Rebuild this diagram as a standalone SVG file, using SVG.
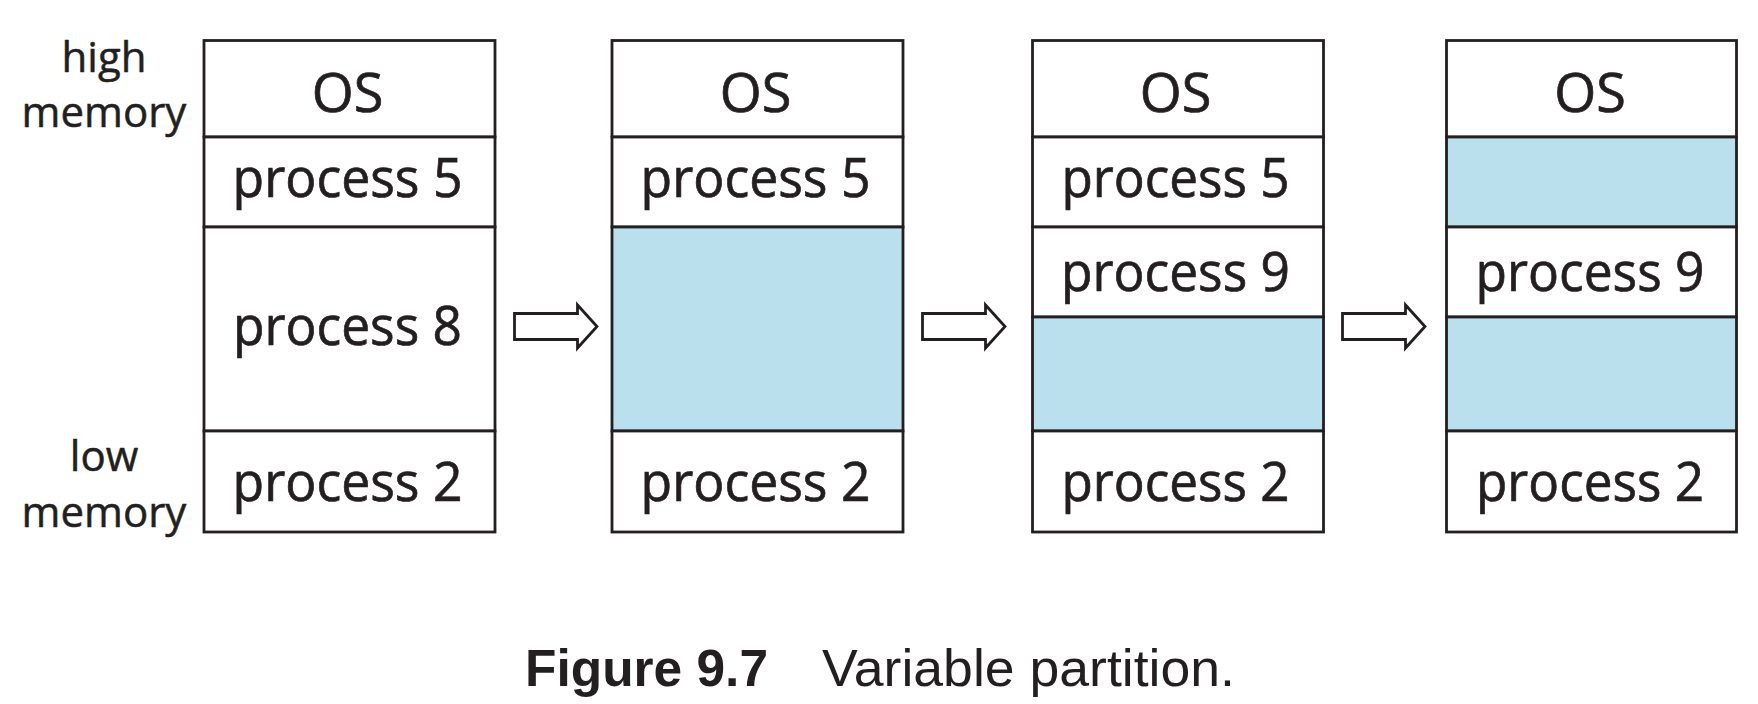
<svg xmlns="http://www.w3.org/2000/svg" width="1758" height="704" viewBox="0 0 1758 704">
<style>
.cell{fill:#ffffff;stroke:#231f20;stroke-width:2.8}
.free{fill:#bae0ee;stroke:#231f20;stroke-width:2.8}
.t{font-family:"Open Sans","Noto Sans",sans-serif;font-size:54px;fill:#231f20;stroke:#231f20;stroke-width:0.7;text-anchor:middle}
.lbl{font-family:"Open Sans","Noto Sans",sans-serif;font-size:42px;fill:#231f20;stroke:#231f20;stroke-width:0.5;text-anchor:middle}
.arrow{fill:#ffffff;stroke:#231f20;stroke-width:2.8;stroke-linejoin:miter}
.capb{font-family:"Liberation Sans",Arial,sans-serif;font-size:52px;font-weight:bold;fill:#231f20}
.cap{font-family:"Liberation Sans",Arial,sans-serif;font-size:52px;fill:#231f20}
</style>
<defs>
<polygon id="arr" points="0,-13 63,-13 63,-21.5 82.5,0 63,21.5 63,13 0,13"/>
</defs>

<g id="labels">
<text class="lbl" x="104" y="72">high</text>
<text class="lbl" x="104" y="127">memory</text>
<text class="lbl" x="104" y="471">low</text>
<text class="lbl" x="104" y="527">memory</text>
</g>

<g id="memory1">
<rect class="cell" x="204" y="40.5" width="291" height="96.5"/>
<rect class="cell" x="204" y="137" width="291" height="90"/>
<rect class="cell" x="204" y="227" width="291" height="204"/>
<rect class="cell" x="204" y="431" width="291" height="101"/>
<text class="t" x="347.5" y="112">OS</text>
<text class="t" x="347.5" y="196.5" textLength="230" lengthAdjust="spacingAndGlyphs">process 5</text>
<text class="t" x="347.5" y="345" textLength="229" lengthAdjust="spacingAndGlyphs">process 8</text>
<text class="t" x="347.5" y="501" textLength="230" lengthAdjust="spacingAndGlyphs">process 2</text>
</g>

<g id="memory2">
<rect class="cell" x="612" y="40.5" width="291" height="96.5"/>
<rect class="cell" x="612" y="137" width="291" height="90"/>
<rect class="free" x="612" y="227" width="291" height="204"/>
<rect class="cell" x="612" y="431" width="291" height="101"/>
<text class="t" x="755.5" y="112">OS</text>
<text class="t" x="755.5" y="196.5" textLength="230" lengthAdjust="spacingAndGlyphs">process 5</text>
<text class="t" x="755.5" y="501" textLength="230" lengthAdjust="spacingAndGlyphs">process 2</text>
</g>

<g id="memory3">
<rect class="cell" x="1032.5" y="40.5" width="291" height="96.5"/>
<rect class="cell" x="1032.5" y="137" width="291" height="90"/>
<rect class="cell" x="1032.5" y="227" width="291" height="90"/>
<rect class="free" x="1032.5" y="317" width="291" height="114"/>
<rect class="cell" x="1032.5" y="431" width="291" height="101"/>
<text class="t" x="1175.5" y="112">OS</text>
<text class="t" x="1175.5" y="196.5" textLength="228" lengthAdjust="spacingAndGlyphs">process 5</text>
<text class="t" x="1175.5" y="291" textLength="229" lengthAdjust="spacingAndGlyphs">process 9</text>
<text class="t" x="1175.5" y="501" textLength="228" lengthAdjust="spacingAndGlyphs">process 2</text>
</g>

<g id="memory4">
<rect class="cell" x="1446.5" y="40.5" width="290" height="96.5"/>
<rect class="free" x="1446.5" y="137" width="290" height="90"/>
<rect class="cell" x="1446.5" y="227" width="290" height="90"/>
<rect class="free" x="1446.5" y="317" width="290" height="114"/>
<rect class="cell" x="1446.5" y="431" width="290" height="101"/>
<text class="t" x="1590" y="112">OS</text>
<text class="t" x="1590" y="291" textLength="229" lengthAdjust="spacingAndGlyphs">process 9</text>
<text class="t" x="1590" y="501" textLength="228" lengthAdjust="spacingAndGlyphs">process 2</text>
</g>

<g id="connectors">
<use href="#arr" class="arrow" x="514.5" y="326.5"/>
<use href="#arr" class="arrow" x="922.5" y="326.5"/>
<use href="#arr" class="arrow" x="1342.5" y="326.5"/>
</g>

<g id="caption">
<text class="capb" x="525" y="686" textLength="243" lengthAdjust="spacingAndGlyphs">Figure 9.7</text>
<text class="cap" x="822" y="686" textLength="413" lengthAdjust="spacingAndGlyphs">Variable partition.</text>
</g>
</svg>
